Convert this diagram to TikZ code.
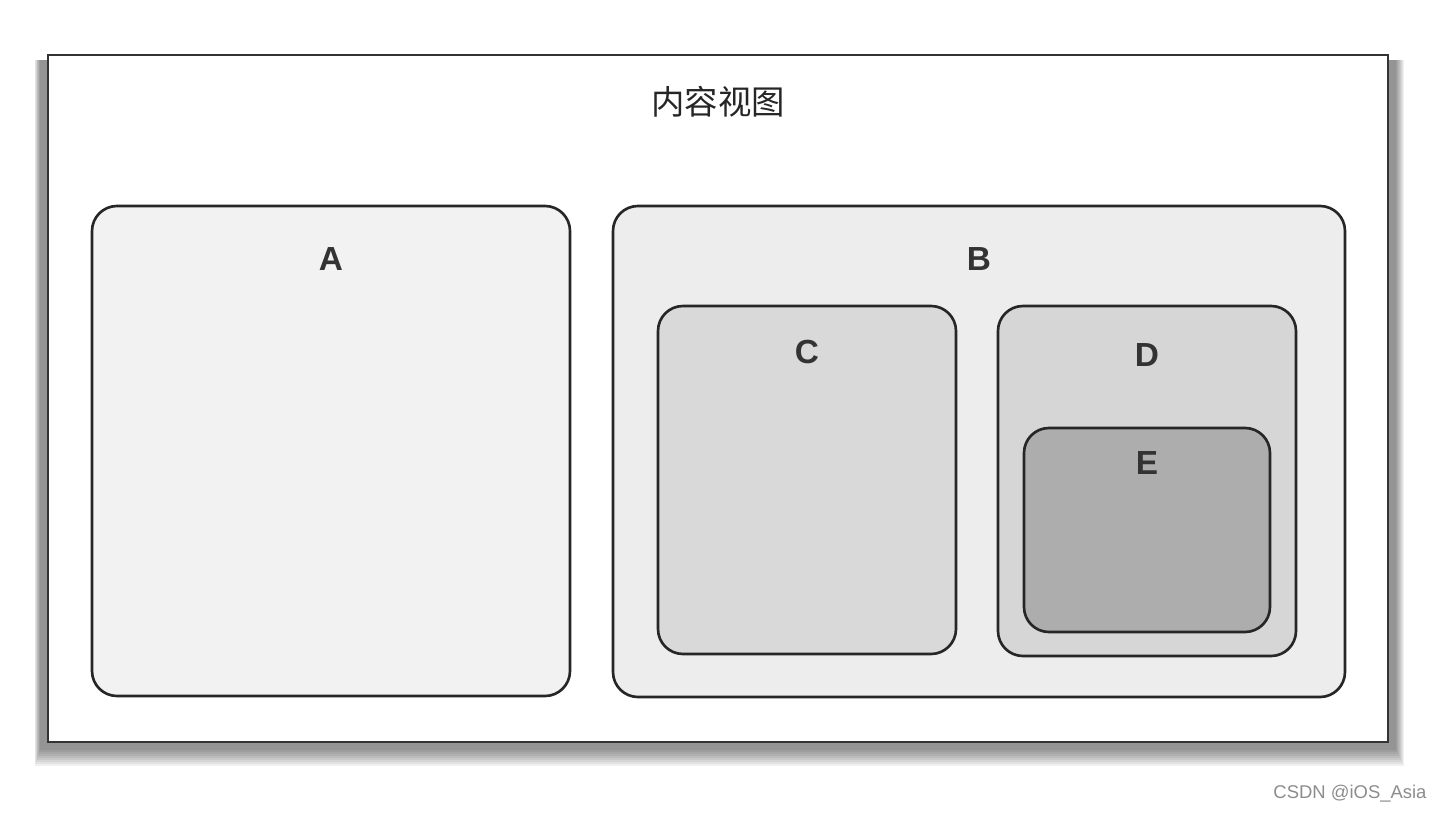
\documentclass[tikz,border=0pt]{standalone}
\usepackage{fontspec}
\setmainfont{Liberation Sans}
\newfontfamily\cjk{Noto Sans CJK SC}
\usetikzlibrary{positioning,fit}

\tikzset{
  view/.style={draw=black!85, line width=1.5pt, rounded corners=0.5cm, inner sep=0pt},
  viewname/.style={font=\bfseries\fontsize{19}{19}\selectfont, text=black!80, inner sep=0pt}
}

\begin{document}
\begin{tikzpicture}[x=0.02cm, y=-0.02cm]
    % page size
    \useasboundingbox (0,0) rectangle (1438,814);

    % shadow of the window
    \foreach \s in {0,2,...,16}
      \fill[black, opacity=0.06] (40-\s/3,60) rectangle (1396+\s/2,750+\s);

    % content view
    \node[draw=black!80, fill=white, line width=1.6pt, inner sep=0pt,
          fit={(48,55) (1388,742)}] (content) {};
    \node[font=\cjk\fontsize{19}{19}\selectfont, text=black!85, below=15pt of content.north] (title) {内容视图};

    % subviews
    \node[view, fill=black!5, fit={(92,206) (570,696)}] (A) {};
    \node[view, fill=black!7, fit={(613,206) (1345,697)}] (B) {};
    \node[view, fill=black!15, fit={(658,306) (956,654)}] (C) {};
    \node[view, fill=black!16, fit={(998,306) (1296,656)}] (D) {};
    \node[view, fill=black!32, fit={(1024,428) (1270,632)}] (E) {};

    % names
    \node[viewname, below=24pt of A.north] (nameA) {A};
    \node[viewname, below=24pt of B.north] (nameB) {B};
    \node[viewname, below=20pt of C.north] (nameC) {C};
    \node[viewname, below=22pt of D.north] (nameD) {D};
    \node[viewname, below=14pt of E.north] (nameE) {E};

    % watermark
    \node[font=\fontsize{10.5}{10.5}\selectfont, text=black!45] (mark) at (1350,794) {CSDN @iOS\_Asia};
\end{tikzpicture}
\end{document}
